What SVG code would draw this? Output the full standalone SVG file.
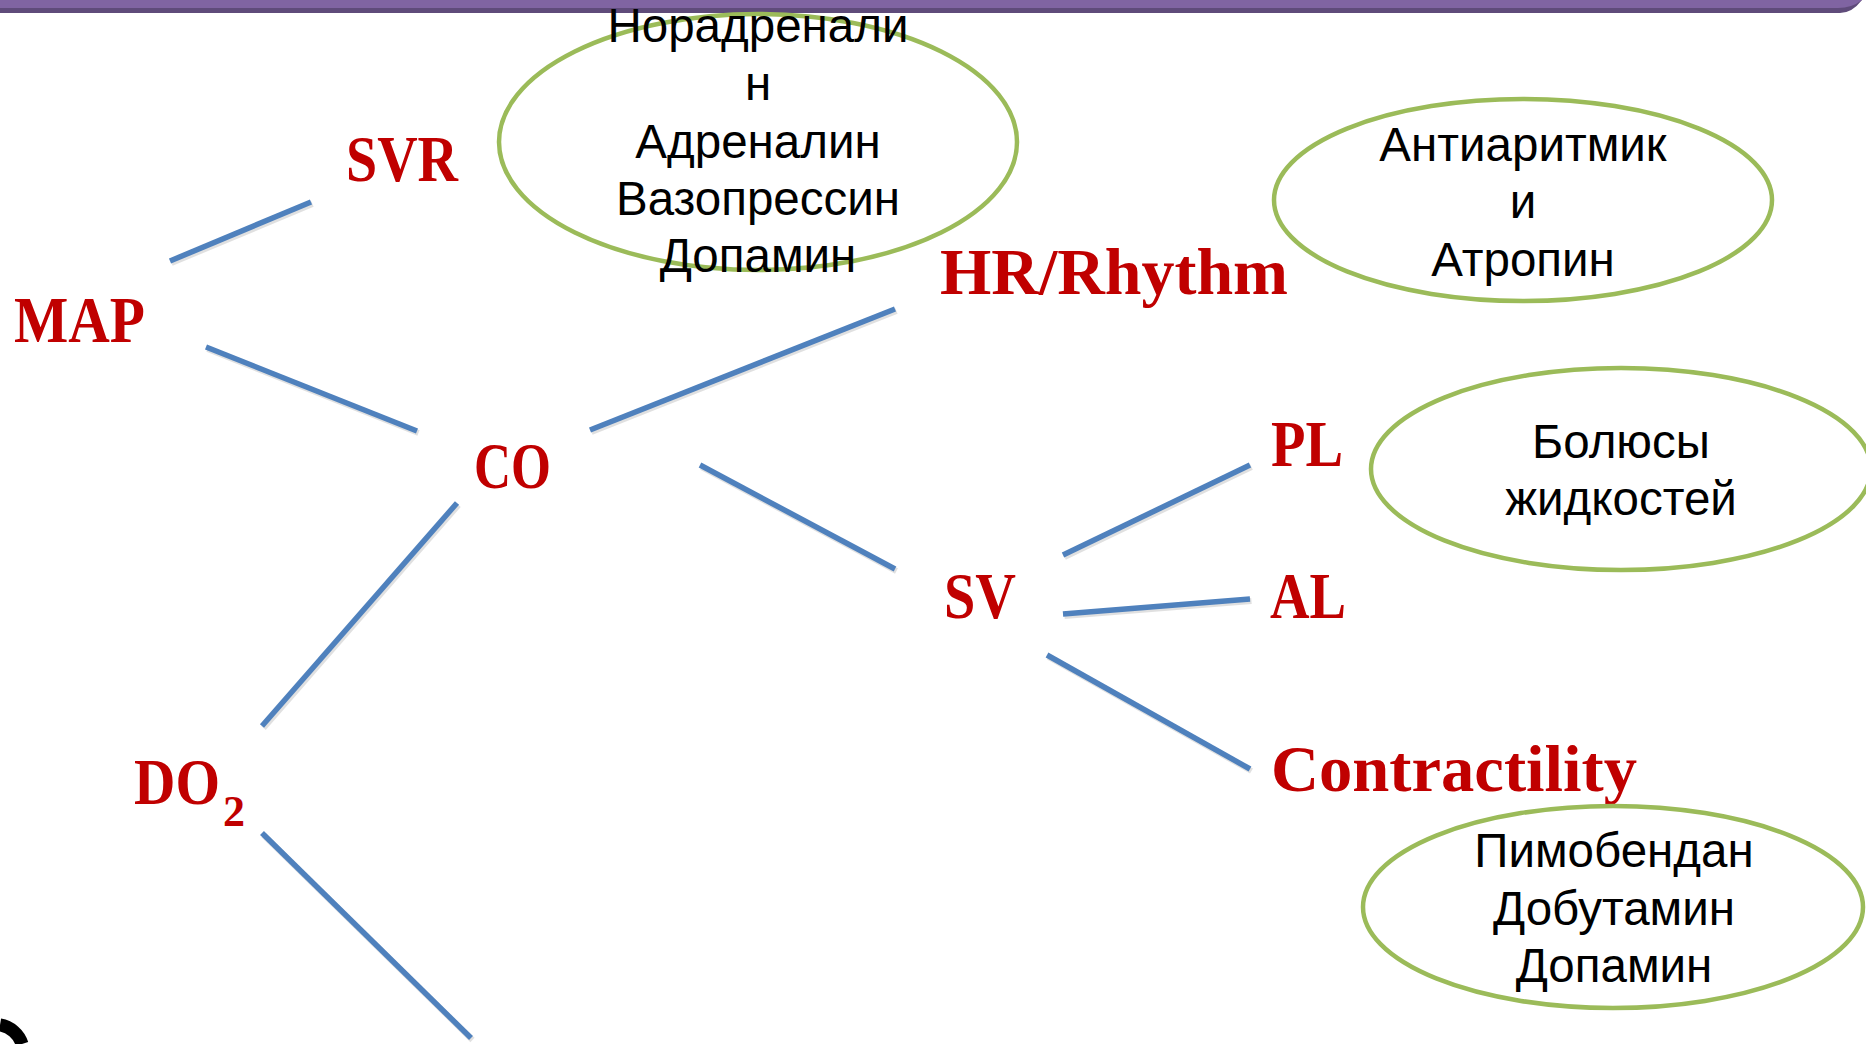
<svg xmlns="http://www.w3.org/2000/svg" width="1866" height="1044" viewBox="0 0 1866 1044">
<style>
.lbl{font-family:"Liberation Serif","Times New Roman",serif;font-weight:bold;fill:#C00000;font-size:65px}
.sub{font-size:44px}
.drug{font-family:"Liberation Sans",Arial,sans-serif;font-size:47.5px;fill:#000;text-anchor:middle}
.ell{fill:none;stroke:#9BBB59;stroke-width:4.5}
.con line{stroke:#4F81BD;stroke-width:5.5;stroke-linecap:butt}
.shadow line{stroke:#000;stroke-opacity:0.12;stroke-width:6}
</style>
<rect width="1866" height="1044" fill="#fff"/>
<!-- banner -->
<path d="M0 0 H1866 L1862 0 Q1852 13 1840 13 H0 Z" fill="#5F4B7A"/>
<path d="M0 0 H1862 Q1852 8 1838 8 H0 Z" fill="#8064A2"/>
<!-- bottom-left fragment -->
<path d="M0 1025 A28 28 0 0 1 22 1044" fill="none" stroke="#000" stroke-width="13"/>
<g class="shadow" transform="translate(1.5,2)">
<line x1="170" y1="261" x2="311" y2="202"/>
<line x1="206" y1="347" x2="417" y2="431"/>
<line x1="590" y1="430" x2="895" y2="309"/>
<line x1="700" y1="465" x2="895" y2="569"/>
<line x1="457" y1="503" x2="262" y2="726"/>
<line x1="1063" y1="555" x2="1250" y2="465"/>
<line x1="1063" y1="614" x2="1250" y2="599"/>
<line x1="1047" y1="655" x2="1250" y2="769"/>
<line x1="262" y1="833" x2="471" y2="1038"/>
</g>
<g id="connectors" class="con">
<line x1="170" y1="261" x2="311" y2="202"/>
<line x1="206" y1="347" x2="417" y2="431"/>
<line x1="590" y1="430" x2="895" y2="309"/>
<line x1="700" y1="465" x2="895" y2="569"/>
<line x1="457" y1="503" x2="262" y2="726"/>
<line x1="1063" y1="555" x2="1250" y2="465"/>
<line x1="1063" y1="614" x2="1250" y2="599"/>
<line x1="1047" y1="655" x2="1250" y2="769"/>
<line x1="262" y1="833" x2="471" y2="1038"/>
</g>
<g id="n-svr"><text class="lbl" x="346" y="181" textLength="112" lengthAdjust="spacingAndGlyphs">SVR</text></g>
<g id="n-map"><text class="lbl" x="14" y="342" textLength="131" lengthAdjust="spacingAndGlyphs">MAP</text></g>
<g id="n-co"><text class="lbl" x="474" y="488" textLength="77" lengthAdjust="spacingAndGlyphs">CO</text></g>
<g id="n-hr"><text class="lbl" x="940" y="294" textLength="348" lengthAdjust="spacingAndGlyphs">HR/Rhythm</text></g>
<g id="n-pl"><text class="lbl" x="1271" y="466" textLength="72" lengthAdjust="spacingAndGlyphs">PL</text></g>
<g id="n-sv"><text class="lbl" x="944" y="618" textLength="72" lengthAdjust="spacingAndGlyphs">SV</text></g>
<g id="n-al"><text class="lbl" x="1270" y="618" textLength="76" lengthAdjust="spacingAndGlyphs">AL</text></g>
<g id="n-contr"><text class="lbl" x="1271" y="791" textLength="366" lengthAdjust="spacingAndGlyphs">Contractility</text></g>
<g id="n-do2"><text class="lbl" x="134" y="804"><tspan textLength="86" lengthAdjust="spacingAndGlyphs">DO</tspan><tspan class="sub" x="223" y="826">2</tspan></text></g>
<g id="e-vaso">
<ellipse class="ell" cx="758" cy="142" rx="259" ry="128"/>
<text class="drug" x="758" y="42">Норадренали</text>
<text class="drug" x="758" y="100">н</text>
<text class="drug" x="758" y="158">Адреналин</text>
<text class="drug" x="758" y="215">Вазопрессин</text>
<text class="drug" x="758" y="272">Допамин</text>
</g>
<g id="e-anti">
<ellipse class="ell" cx="1523" cy="200" rx="249" ry="101"/>
<text class="drug" x="1523" y="161">Антиаритмик</text>
<text class="drug" x="1523" y="218">и</text>
<text class="drug" x="1523" y="276">Атропин</text>
</g>
<g id="e-bolus">
<ellipse class="ell" cx="1621" cy="469" rx="250" ry="101"/>
<text class="drug" x="1621" y="458">Болюсы</text>
<text class="drug" x="1621" y="515">жидкостей</text>
</g>
<g id="e-ino">
<ellipse class="ell" cx="1613" cy="907" rx="250" ry="101"/>
<text class="drug" x="1614" y="867">Пимобендан</text>
<text class="drug" x="1614" y="925">Добутамин</text>
<text class="drug" x="1614" y="982">Допамин</text>
</g>
</svg>
